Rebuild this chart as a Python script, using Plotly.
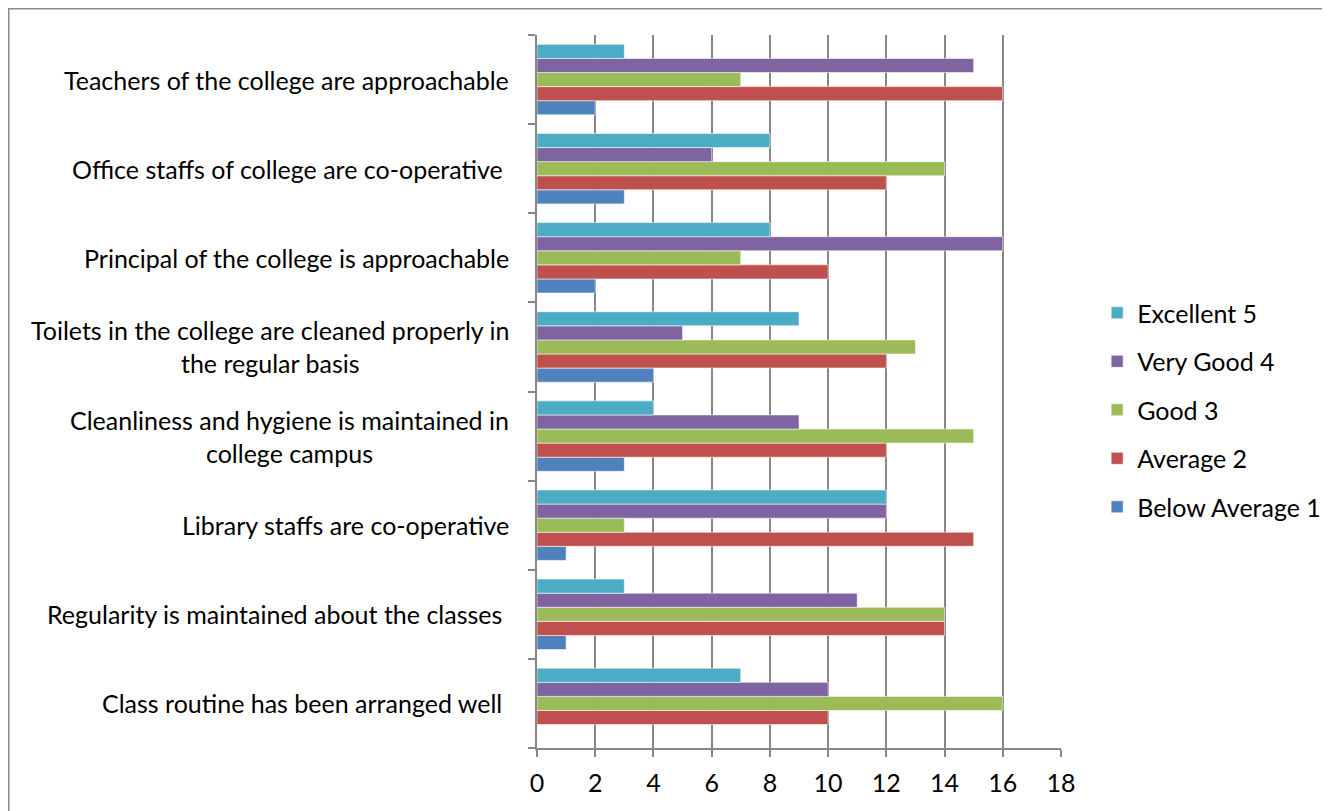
import plotly.graph_objects as go

categories = [
    "Class routine has been arranged well ",
    "Regularity is maintained about the classes ",
    "Library staffs are co-operative",
    "Cleanliness and hygiene is maintained in<br>college campus",
    "Toilets in the college are cleaned properly in<br>the regular basis",
    "Principal of the college is approachable",
    "Office staffs of college are co-operative ",
    "Teachers of the college are approachable",
]
series_names = ["Below Average 1", "Average 2", "Good 3", "Very Good 4", "Excellent 5"]
below_average = [0, 1, 1, 3, 4, 2, 3, 2]
average = [10, 14, 15, 12, 12, 10, 12, 16]
good = [16, 14, 3, 15, 13, 7, 14, 7]
very_good = [10, 11, 12, 9, 5, 16, 6, 15]
excellent = [7, 3, 12, 4, 9, 8, 8, 3]
colors = ["#4F81BD", "#C0504D", "#9BBB59", "#8064A2", "#4BACC6"]
x_ticks = [0, 2, 4, 6, 8, 10, 12, 14, 16, 18]

FONT = "Lato"
FS = 25
# page body has an 8px margin: figure pixel = reference pixel - 8
OFF = 8
W, H = 1330 - OFF, 811 - OFF
L = 537 - OFF
T = 35 - OFF
R = W - (1061 - OFF)
B = H - (748 - OFF)

fig = go.Figure()
for k, (name, vals, col) in enumerate(zip(series_names, [below_average, average, good, very_good, excellent], colors)):
    fig.add_trace(go.Bar(
        y=list(range(len(categories))), x=vals, name=name, orientation="h",
        marker=dict(color=col, line=dict(color="rgba(255,255,255,0.55)", width=1)),
        legendgroup=name, legendrank=len(series_names) - k,
    ))

for i, c in enumerate(categories):
    fig.add_annotation(x=-0.05, xref="paper", y=i, yref="y", text=c, showarrow=False,
                       xanchor="right", yanchor="middle", align="center",
                       font=dict(family=FONT, size=FS, color="black"))

plot_w = W - L - R
plot_h = H - T - B
fig.add_shape(type="rect", xref="paper", yref="paper",
              x0=(0.75 - L) / plot_w, x1=(W + 20 - L) / plot_w,
              y0=-(H + 20 - T - plot_h) / plot_h, y1=(H - 0.75 - B) / plot_h,
              line=dict(color="#8a8a8a", width=1.5), fillcolor="rgba(0,0,0,0)", layer="below")

fig.update_layout(
    width=W, height=H,
    margin=dict(l=L, r=R, t=T, b=B, pad=0, autoexpand=False),
    paper_bgcolor="white", plot_bgcolor="white",
    barmode="group", bargap=0.21, bargroupgap=0,
    font=dict(family=FONT, size=FS, color="black"),
    showlegend=True,
    legend=dict(traceorder="grouped", tracegroupgap=13,
                x=1.069, xanchor="left", y=0.474, yanchor="middle",
                font=dict(family=FONT, size=FS, color="black"),
                itemwidth=30, bgcolor="rgba(0,0,0,0)"),
    xaxis=dict(range=[0, 18], tickvals=x_ticks, showgrid=True, gridcolor="#878787", gridwidth=1.5,
               showline=True, linecolor="#878787", linewidth=1.5, ticks="outside", ticklen=7,
               tickcolor="#878787", tickwidth=1.5, zeroline=False, ticklabelstandoff=5,
               tickfont=dict(family=FONT, size=FS, color="black")),
    yaxis=dict(range=[-0.5, len(categories) - 0.5], tickvals=[i - 0.5 for i in range(len(categories) + 1)],
               showticklabels=False, showgrid=False, showline=True, linecolor="#878787", linewidth=1.5,
               ticks="outside", ticklen=7, tickcolor="#878787", tickwidth=1.5, zeroline=False),
)

fig.write_html("out.html")
